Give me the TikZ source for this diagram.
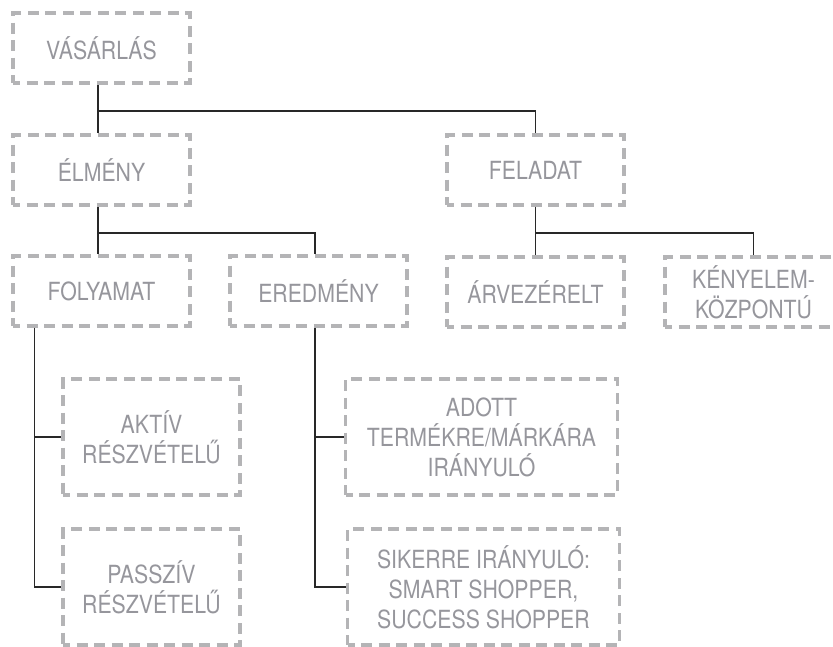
\documentclass[tikz,border=0pt]{standalone}
\usepackage{fontspec}
\setmainfont{TeX Gyre Heros}
\newfontfamily\boxfont{TeX Gyre Heros}[FakeStretch=0.85]
\usepackage{xcolor}
\usetikzlibrary{positioning}
\definecolor{boxgray}{RGB}{180,180,182}
\definecolor{textgray}{RGB}{150,150,156}
\definecolor{linkgray}{RGB}{40,40,40}

\begin{document}
\begin{tikzpicture}[x=1pt, y=1pt, node distance=122pt,
    box/.style={rectangle, draw=boxgray, line width=3.5pt, dash pattern=on 11pt off 6.5pt, dash phase=4pt,
        minimum width=177pt, minimum height=70pt, inner sep=0pt, align=center,
        text=textgray, font=\boxfont\fontsize{25}{30}\selectfont},
    tallbox/.style={box, minimum height=116pt},
    widebox/.style={tallbox, minimum width=272pt},
    link/.style={draw=linkgray, line width=1.7pt}]
    \useasboundingbox (0,0) rectangle (833,-646);
    \clip (0,0) rectangle (833,-646);

    \node [box] (vas) at (101.5,-48) {VÁSÁRLÁS};
    \node [box, below of=vas] (elm) {ÉLMÉNY};
    \node [box, right of=elm, node distance=434pt] (fel) {FELADAT};
    \node [box, below of=elm, node distance=121pt] (foly) {FOLYAMAT};
    \node [box, right of=foly, node distance=217pt] (ered) {EREDMÉNY};
    \node [box, below of=fel, node distance=122pt] (arv) {ÁRVEZÉRELT};
    \node [box, right of=arv, node distance=218pt] (keny) {KÉNYELEM-\\KÖZPONTÚ};
    \node [tallbox, below of=foly, node distance=146pt, xshift=50pt] (akt) {AKTÍV\\RÉSZVÉTELŰ};
    \node [tallbox, below of=akt, node distance=150pt] (pas) {PASSZÍV\\RÉSZVÉTELŰ};
    \node [widebox, right of=akt, node distance=330pt] (adott) {ADOTT\\TERMÉKRE/MÁRKÁRA\\IRÁNYULÓ};
    \node [widebox, below of=adott, node distance=150pt, xshift=2pt] (siker) {SIKERRE IRÁNYULÓ:\\SMART SHOPPER,\\SUCCESS SHOPPER};

    \draw [link] ([xshift=-3.5pt]vas.south) -- ([xshift=-3.5pt]elm.north);
    \draw [link] ([xshift=-3.5pt]vas.south) ++(0,-26) -| (fel.north);
    \draw [link] ([xshift=-3.5pt]elm.south) -- ([xshift=-3.5pt]foly.north);
    \draw [link] ([xshift=-3.5pt]elm.south) ++(0,-26) -| ([xshift=-3.5pt]ered.north);
    \draw [link] (fel.south) -- (arv.north);
    \draw [link] (fel.south) ++(0,-26) -| (keny.north);
    \draw [link] ([xshift=-67pt]foly.south) |- (akt.west);
    \draw [link] ([xshift=-67pt]foly.south) |- (pas.west);
    \draw [link] ([xshift=-3.5pt]ered.south) |- (adott.west);
    \draw [link] ([xshift=-3.5pt]ered.south) |- (siker.west);
\end{tikzpicture}
\end{document}
